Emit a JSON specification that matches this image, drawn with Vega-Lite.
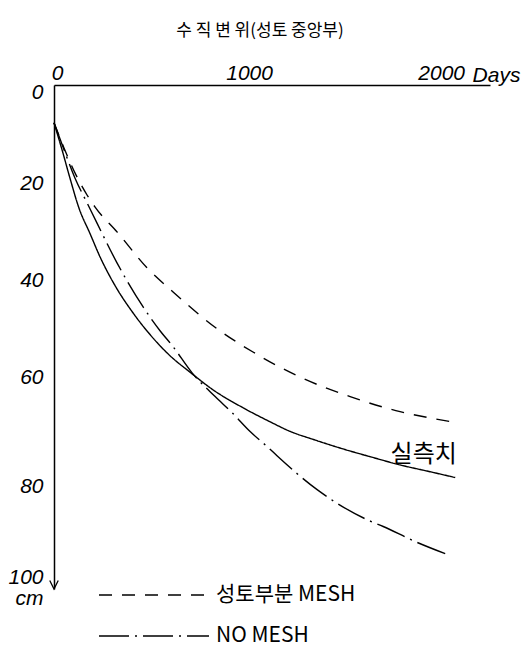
{
  "$schema": "https://vega.github.io/schema/vega-lite/v6.json",
  "autosize": {"type": "none"},
  "padding": {"left": 54, "top": 85, "right": 40, "bottom": 71},
  "width": 436,
  "height": 504,
  "background": "white",
  "title": {"text": "수 직 변 위(성토 중앙부)", "font": "Noto Sans CJK KR", "fontSize": 17, "fontWeight": "normal", "color": "black", "dx": -12, "offset": 22},
  "config": {"view": {"stroke": null}},
  "layer": [
    {
      "data": {"values": [
        {"s": "실측치", "d": 0, "v": 7.8},
        {"s": "실측치", "d": 42, "v": 13.4},
        {"s": "실측치", "d": 83, "v": 19.2},
        {"s": "실측치", "d": 130, "v": 25.4},
        {"s": "실측치", "d": 188, "v": 30.7},
        {"s": "실측치", "d": 240, "v": 35.5},
        {"s": "실측치", "d": 318, "v": 41.4},
        {"s": "실측치", "d": 411, "v": 47.0},
        {"s": "실측치", "d": 500, "v": 51.5},
        {"s": "실측치", "d": 589, "v": 55.3},
        {"s": "실측치", "d": 719, "v": 59.6},
        {"s": "실측치", "d": 828, "v": 62.9},
        {"s": "실측치", "d": 984, "v": 66.6},
        {"s": "실측치", "d": 1125, "v": 69.5},
        {"s": "실측치", "d": 1219, "v": 71.3},
        {"s": "실측치", "d": 1370, "v": 73.4},
        {"s": "실측치", "d": 1505, "v": 75.1},
        {"s": "실측치", "d": 1646, "v": 76.7},
        {"s": "실측치", "d": 1802, "v": 78.4},
        {"s": "실측치", "d": 1958, "v": 79.8},
        {"s": "실측치", "d": 2089, "v": 81.0},
        {"s": "성토부분 MESH", "d": 0, "v": 7.8},
        {"s": "성토부분 MESH", "d": 52, "v": 13.0},
        {"s": "성토부분 MESH", "d": 115, "v": 18.6},
        {"s": "성토부분 MESH", "d": 172, "v": 22.7},
        {"s": "성토부분 MESH", "d": 214, "v": 25.2},
        {"s": "성토부분 MESH", "d": 328, "v": 30.3},
        {"s": "성토부분 MESH", "d": 484, "v": 37.7},
        {"s": "성토부분 MESH", "d": 620, "v": 42.7},
        {"s": "성토부분 MESH", "d": 849, "v": 50.3},
        {"s": "성토부분 MESH", "d": 1036, "v": 55.1},
        {"s": "성토부분 MESH", "d": 1266, "v": 60.0},
        {"s": "성토부분 MESH", "d": 1542, "v": 64.3},
        {"s": "성토부분 MESH", "d": 1802, "v": 67.4},
        {"s": "성토부분 MESH", "d": 1958, "v": 68.7},
        {"s": "성토부분 MESH", "d": 2099, "v": 69.7},
        {"s": "NO MESH", "d": 0, "v": 7.8},
        {"s": "NO MESH", "d": 47, "v": 12.8},
        {"s": "NO MESH", "d": 109, "v": 19.2},
        {"s": "NO MESH", "d": 177, "v": 24.7},
        {"s": "NO MESH", "d": 224, "v": 28.5},
        {"s": "NO MESH", "d": 328, "v": 36.7},
        {"s": "NO MESH", "d": 464, "v": 45.8},
        {"s": "NO MESH", "d": 552, "v": 50.7},
        {"s": "NO MESH", "d": 620, "v": 54.0},
        {"s": "NO MESH", "d": 719, "v": 59.4},
        {"s": "NO MESH", "d": 839, "v": 64.3},
        {"s": "NO MESH", "d": 927, "v": 67.6},
        {"s": "NO MESH", "d": 1021, "v": 71.5},
        {"s": "NO MESH", "d": 1115, "v": 74.8},
        {"s": "NO MESH", "d": 1161, "v": 76.5},
        {"s": "NO MESH", "d": 1370, "v": 83.5},
        {"s": "NO MESH", "d": 1630, "v": 89.7},
        {"s": "NO MESH", "d": 1714, "v": 91.1},
        {"s": "NO MESH", "d": 1880, "v": 94.2},
        {"s": "NO MESH", "d": 2063, "v": 97.1}
      ]},
      "mark": {"type": "line", "interpolate": "monotone", "color": "black", "strokeWidth": 1.4},
      "encoding": {
        "x": {"field": "d", "type": "quantitative", "scale": {"domain": [0, 2270], "nice": false, "zero": false},
          "axis": {"orient": "top", "values": [0, 1000, 2000], "format": "d", "title": "Days", "titleX": 442, "titleY": -4, "titleAlign": "center", "titleBaseline": "alphabetic", "titleFont": "Liberation Sans", "titleFontStyle": "italic", "titleFontWeight": "normal", "titleFontSize": 21, "titleColor": "black", "titleAnchor": null,
            "ticks": false, "grid": false, "domainColor": "black", "domainWidth": 1.5, "labelFont": "Liberation Sans", "labelFontStyle": "italic", "labelFontSize": 21, "labelColor": "black", "labelPadding": 2, "labelOffset": 3, "labelFlush": false, "labelOverlap": false}},
        "y": {"field": "v", "type": "quantitative", "scale": {"domain": [0, 104], "nice": false, "zero": false, "reverse": true},
          "axis": {"orient": "left", "values": [0, 20, 40, 60, 80, 100], "format": "d", "title": null, "ticks": false, "grid": false, "domainColor": "black", "domainWidth": 1.5,
            "labelFont": "Liberation Sans", "labelFontStyle": "italic", "labelFontSize": 21, "labelColor": "black", "labelPadding": 11, "labelFlush": false, "labelOverlap": false, "labelLineHeight": 21,
            "labelExpr": "datum.value == 100 ? ['100', 'cm'] : datum.label",
            "labelOffset": {"condition": [{"test": "datum.value == 0", "value": 7}, {"test": "datum.value == 80", "value": 14}, {"test": "datum.value == 100", "value": 8}], "value": 2}}},
        "strokeDash": {"field": "s", "type": "nominal",
          "scale": {"domain": ["실측치", "성토부분 MESH", "NO MESH"], "range": [[1, 0], [13, 10], [30, 6, 2, 6]]},
          "legend": {"orient": "none", "legendX": 44, "legendY": 496, "title": null, "values": ["성토부분 MESH", "NO MESH"], "symbolType": "stroke", "symbolSize": 12100, "symbolStrokeWidth": 1.5, "symbolStrokeColor": "black", "labelFont": "Noto Sans CJK KR", "labelFontSize": 21, "labelColor": "black", "labelOffset": 6, "clipHeight": 28, "rowPadding": 13, "labelLimit": 300, "padding": 0}}
      }
    },
    {
      "data": {"values": [{"d": 1925, "v": 76.3, "label": "실측치"}]},
      "mark": {"type": "text", "font": "Noto Sans CJK KR", "fontSize": 24, "color": "black", "align": "center", "baseline": "middle"},
      "encoding": {
        "x": {"field": "d", "type": "quantitative", "scale": {"domain": [0, 2270], "nice": false, "zero": false}},
        "y": {"field": "v", "type": "quantitative", "scale": {"domain": [0, 104], "nice": false, "zero": false, "reverse": true}},
        "text": {"field": "label"}
      }
    },
    {
      "data": {"values": [{"d": 0, "v": 104}]},
      "mark": {"type": "point", "shape": "M-0.6,-1.2L0,0L0.6,-1.2", "filled": false, "stroke": "black", "strokeWidth": 1.3, "size": 200, "opacity": 1, "clip": false},
      "encoding": {
        "x": {"field": "d", "type": "quantitative", "scale": {"domain": [0, 2270], "nice": false, "zero": false}},
        "y": {"field": "v", "type": "quantitative", "scale": {"domain": [0, 104], "nice": false, "zero": false, "reverse": true}}
      }
    }
  ]
}
